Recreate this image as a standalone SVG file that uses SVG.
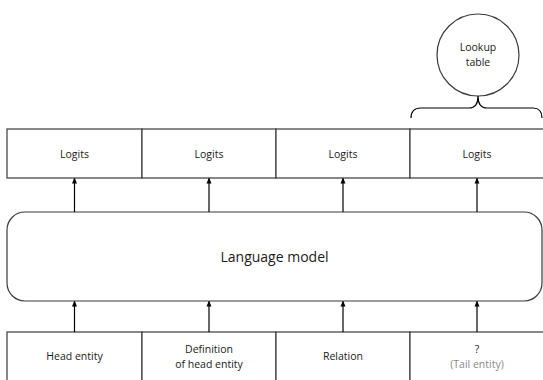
<svg xmlns="http://www.w3.org/2000/svg" width="543" height="380" viewBox="0 0 543 380">
<defs>
<style>
.box{fill:#fff;stroke:#3a3a3a;stroke-width:1.2}
.t{font-family:"Open Sans","Liberation Sans",sans-serif;font-size:10.5px;fill:#1a1a1a;text-anchor:middle;dominant-baseline:central}
.g{fill:#8a8a8a}
.big{font-size:14px}
.c{stroke:#000;stroke-width:1.2;fill:none;marker-end:url(#ah)}
</style>
<marker id="ah" viewBox="0 0 6 6" refX="5" refY="3" markerWidth="6" markerHeight="6" orient="auto" markerUnits="userSpaceOnUse">
<path d="M0,0.5 L6,3 L0,5.5 Z" fill="#000"/>
</marker>
</defs>
<rect width="543" height="380" fill="#fff"/>
<g id="logits1"><rect class="box" x="7" y="129" width="135" height="49"/><text class="t" x="74.5" y="153.5">Logits</text></g>
<g id="logits2"><rect class="box" x="142" y="129" width="134" height="49"/><text class="t" x="209" y="153.5">Logits</text></g>
<g id="logits3"><rect class="box" x="276" y="129" width="134" height="49"/><text class="t" x="343" y="153.5">Logits</text></g>
<g id="logits4"><rect class="box" x="410" y="129" width="135" height="49"/><text class="t" x="477" y="153.5">Logits</text></g>
<g id="lookup"><circle class="box" cx="478" cy="55" r="41"/><text class="t" x="478" y="47">Lookup</text><text class="t" x="478" y="62">table</text></g>
<g id="brace"><path d="M411,118 Q411,108 421,108 L469,108 Q478,108 478,96 Q478,108 487,108 L533,108 Q542,108 542,118" fill="none" stroke="#000" stroke-width="1.2"/></g>
<g id="lm"><rect class="box" x="7" y="212" width="535" height="89" rx="18"/><text class="t big" x="274.5" y="256">Language model</text></g>
<g id="head"><rect class="box" x="7" y="332" width="135" height="50"/><text class="t" x="74.5" y="356">Head entity</text></g>
<g id="def"><rect class="box" x="142" y="332" width="134" height="50"/><text class="t" x="209" y="349">Definition</text><text class="t" x="209" y="364">of head entity</text></g>
<g id="rel"><rect class="box" x="276" y="332" width="134" height="50"/><text class="t" x="343" y="356">Relation</text></g>
<g id="tail"><rect class="box" x="410" y="332" width="135" height="50"/><text class="t" x="477" y="349">?</text><text class="t g" x="477" y="364">(Tail entity)</text></g>
<g id="connectors">
<path class="c" d="M74.5,212 V178.5"/>
<path class="c" d="M209,212 V178.5"/>
<path class="c" d="M343,212 V178.5"/>
<path class="c" d="M477,212 V178.5"/>
<path class="c" d="M74.5,332 V301.5"/>
<path class="c" d="M209,332 V301.5"/>
<path class="c" d="M343,332 V301.5"/>
<path class="c" d="M477,332 V301.5"/>
</g>
</svg>
